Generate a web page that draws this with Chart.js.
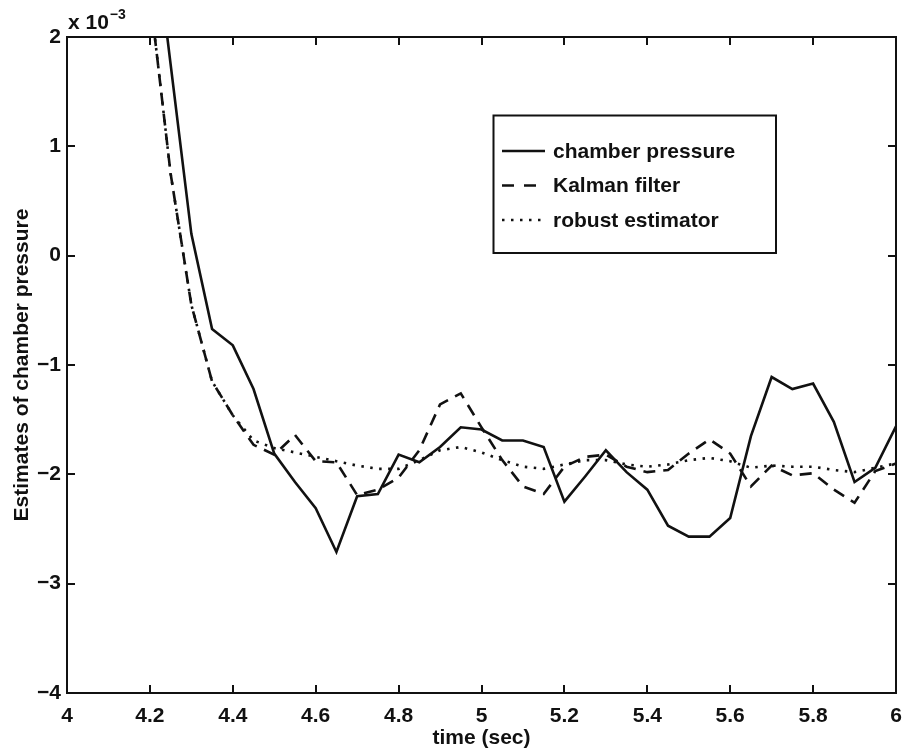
<!DOCTYPE html>
<html>
<head>
<meta charset="utf-8">
<title>Estimates of chamber pressure</title>
<script src="https://cdn.jsdelivr.net/npm/chart.js@4.4.1/dist/chart.umd.min.js"></script>
<style>
  html, body { margin: 0; padding: 0; background: #fff; }
  #wrap { width: 903px; height: 755px; }
</style>
</head>
<body>
<div id="wrap"><canvas id="pressureChart" width="903" height="755"></canvas></div>
<script>
// time samples (sec), every 0.05 s
const times = [4.20, 4.25, 4.30, 4.35, 4.40, 4.45, 4.50, 4.55, 4.60, 4.65,
               4.70, 4.75, 4.80, 4.85, 4.90, 4.95, 5.00, 5.05, 5.10, 5.15,
               5.20, 5.25, 5.30, 5.35, 5.40, 5.45, 5.50, 5.55, 5.60, 5.65,
               5.70, 5.75, 5.80, 5.85, 5.90, 5.95, 6.00];

// values in units of 1e-3
const chamberPressure = [3.30, 1.75, 0.20, -0.67, -0.82, -1.22, -1.81, -2.07, -2.31, -2.71,
                         -2.20, -2.18, -1.82, -1.89, -1.75, -1.57, -1.59, -1.69, -1.69, -1.75,
                         -2.25, -2.02, -1.78, -1.98, -2.14, -2.47, -2.57, -2.57, -2.40, -1.65,
                         -1.11, -1.22, -1.17, -1.52, -2.07, -1.94, -1.56];
const kalmanFilter = [2.39, 0.75, -0.45, -1.15, -1.46, -1.73, -1.82, -1.64, -1.88, -1.89,
                      -2.19, -2.14, -2.03, -1.78, -1.36, -1.26, -1.57, -1.87, -2.11, -2.18,
                      -1.93, -1.84, -1.82, -1.93, -1.98, -1.96, -1.81, -1.68, -1.81, -2.11,
                      -1.92, -2.01, -1.99, -2.14, -2.26, -1.97, -1.90];
const robustEstimator = [2.39, 0.75, -0.45, -1.15, -1.46, -1.69, -1.76, -1.80, -1.84, -1.88,
                         -1.92, -1.95, -1.95, -1.87, -1.78, -1.75, -1.80, -1.87, -1.93, -1.95,
                         -1.91, -1.87, -1.87, -1.91, -1.93, -1.91, -1.87, -1.85, -1.88, -1.94,
                         -1.92, -1.93, -1.93, -1.96, -1.98, -1.94, -1.90];

const seriesNames = ['chamber pressure', 'Kalman filter', 'robust estimator'];

const xTicks = [4, 4.2, 4.4, 4.6, 4.8, 5, 5.2, 5.4, 5.6, 5.8, 6];
const xTickLabels = ['4', '4.2', '4.4', '4.6', '4.8', '5', '5.2', '5.4', '5.6', '5.8', '6'];
const yTicks = [-4, -3, -2, -1, 0, 1, 2];
const yTickLabels = ['\u22124', '\u22123', '\u22122', '\u22121', '0', '1', '2'];

const FONT = '"Liberation Sans", Arial, Helvetica, sans-serif';
const INK = '#111';

const pts = ys => times.map((t, i) => ({ x: t, y: ys[i] }));

// matlab-ish box with inward ticks on all four sides + the x10^-3 exponent
const axesBox = {
  id: 'axesBox',
  afterDraw(chart) {
    const { ctx, chartArea: a, scales: { x, y } } = chart;
    const len = 8;
    ctx.save();
    ctx.strokeStyle = INK;
    ctx.lineWidth = 2;
    ctx.strokeRect(a.left, a.top, a.right - a.left, a.bottom - a.top);
    ctx.beginPath();
    xTicks.forEach(v => {
      const px = Math.round(x.getPixelForValue(v));
      ctx.moveTo(px, a.bottom); ctx.lineTo(px, a.bottom - len);
      ctx.moveTo(px, a.top); ctx.lineTo(px, a.top + len);
    });
    yTicks.forEach(v => {
      const py = Math.round(y.getPixelForValue(v));
      ctx.moveTo(a.left, py); ctx.lineTo(a.left + len, py);
      ctx.moveTo(a.right, py); ctx.lineTo(a.right - len, py);
    });
    ctx.stroke();

    ctx.fillStyle = INK;
    ctx.textBaseline = 'alphabetic';
    ctx.textAlign = 'left';
    ctx.font = `bold 21px ${FONT}`;
    ctx.fillText('x 10', a.left + 1, a.top - 8);
    const w = ctx.measureText('x 10').width;
    ctx.font = `bold 14px ${FONT}`;
    ctx.fillText('\u22123', a.left + 1 + w + 1, a.top - 18);
    ctx.restore();
  }
};

// legend box in the upper right of the axes
const boxLegend = {
  id: 'boxLegend',
  afterDraw(chart) {
    const { ctx } = chart;
    const bx = 493.5, by = 115.5, bw = 282.5, bh = 137.5;
    const rows = [151, 185.5, 220];
    ctx.save();
    ctx.fillStyle = '#fff';
    ctx.fillRect(bx, by, bw, bh);
    ctx.strokeStyle = INK;
    ctx.lineWidth = 2;
    ctx.strokeRect(bx, by, bw, bh);
    chart.data.datasets.forEach((ds, i) => {
      const yy = rows[i];
      ctx.beginPath();
      ctx.setLineDash(ds.legendDash || []);
      ctx.lineWidth = ds.borderWidth;
      ctx.strokeStyle = ds.borderColor;
      ctx.moveTo(502, yy); ctx.lineTo(545, yy);
      ctx.stroke();
      ctx.setLineDash([]);
      ctx.fillStyle = INK;
      ctx.font = `bold 21px ${FONT}`;
      ctx.textBaseline = 'middle';
      ctx.fillText(ds.label, 553, yy + 1);
    });
    ctx.restore();
  }
};

new Chart(document.getElementById('pressureChart'), {
  type: 'line',
  data: {
    datasets: [
      { label: seriesNames[0], data: pts(chamberPressure), borderColor: INK, borderWidth: 2.6,
        pointRadius: 0, tension: 0, legendDash: [] },
      { label: seriesNames[1], data: pts(kalmanFilter), borderColor: INK, borderWidth: 2.6,
        borderDash: [12, 8], pointRadius: 0, tension: 0, legendDash: [12, 10] },
      { label: seriesNames[2], data: pts(robustEstimator), borderColor: INK, borderWidth: 2.6,
        borderDash: [2.5, 6.5], pointRadius: 0, tension: 0, legendDash: [2.5, 6.5] }
    ]
  },
  options: {
    responsive: false,
    animation: false,
    events: [],
    layout: { padding: { top: 37, right: 7, left: 0, bottom: 0 } },
    plugins: { legend: { display: false }, tooltip: { enabled: false } },
    scales: {
      x: {
        type: 'linear', min: 4, max: 6,
        afterBuildTicks: s => { s.ticks = xTicks.map(v => ({ value: v })); },
        afterFit: s => { s.height = 62; s.paddingLeft = 0; s.paddingRight = 0; },
        grid: { display: false, drawTicks: false },
        border: { display: false },
        ticks: {
          color: INK, padding: 11, maxRotation: 0, autoSkip: false,
          font: { family: FONT, size: 21, weight: 'bold' },
          callback: (v, i) => xTickLabels[i]
        },
        title: {
          display: true, text: 'time (sec)', color: INK,
          font: { family: FONT, size: 21, weight: 'bold' },
          padding: { top: 0, bottom: 4 }
        }
      },
      y: {
        type: 'linear', min: -4, max: 2,
        afterBuildTicks: s => { s.ticks = yTicks.map(v => ({ value: v })); },
        afterFit: s => { s.width = 67; s.paddingTop = 0; s.paddingBottom = 0; },
        grid: { display: false, drawTicks: false },
        border: { display: false },
        ticks: {
          color: INK, padding: 6, autoSkip: false,
          font: { family: FONT, size: 21, weight: 'bold' },
          callback: (v, i) => yTickLabels[i]
        },
        title: {
          display: true, text: 'Estimates of chamber pressure', color: INK,
          font: { family: FONT, size: 21, weight: 'bold' },
          padding: { top: 10, bottom: 0 }
        }
      }
    }
  },
  plugins: [axesBox, boxLegend]
});
</script>
</body>
</html>
